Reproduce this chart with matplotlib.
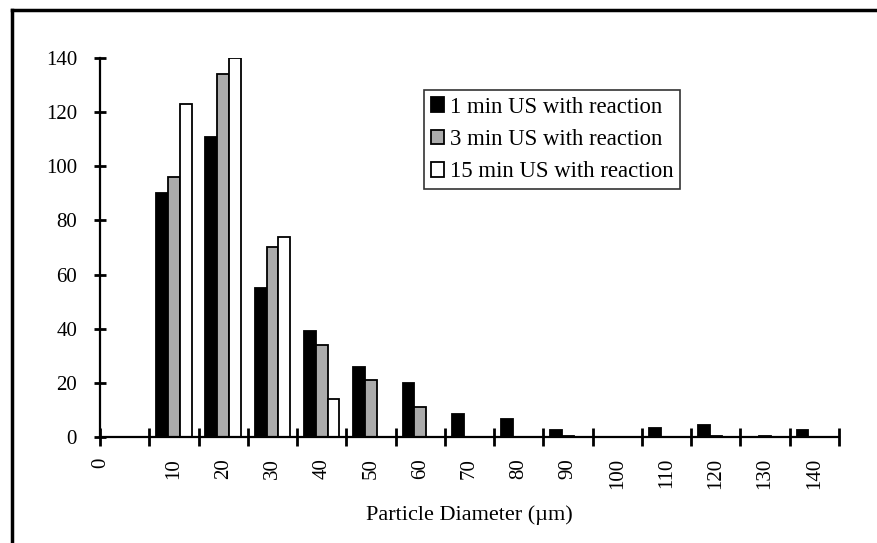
import matplotlib
matplotlib.use("Agg")
import matplotlib.pyplot as plt
import numpy as np
from matplotlib.lines import Line2D
from matplotlib.ticker import FixedLocator
from matplotlib.transforms import ScaledTranslation

plt.rcParams["font.family"] = ["Liberation Serif", "DejaVu Serif"]

# particle size classes (um) and counts per sonication time
diameters = ["0", "10", "20", "30", "40", "50", "60", "70",
             "80", "90", "100", "110", "120", "130", "140"]
us_1min = [0, 90, 111, 55, 39, 26, 20, 8.5, 6.5, 2.5, 0, 3.5, 4.5, 0, 2.5]
us_3min = [0, 96, 134, 70, 34, 21, 11, 0, 0, 0.4, 0, 0, 0.4, 0.4, 0]
us_15min = [0, 123, 140, 74, 14, 0, 0, 0, 0, 0, 0, 0, 0, 0, 0]

series = [
    (us_1min, "1 min US with reaction", "black"),
    (us_3min, "3 min US with reaction", "#ababab"),
    (us_15min, "15 min US with reaction", "white"),
]

fig = plt.figure(figsize=(8.78, 5.43), dpi=100)
ax = fig.add_axes([0.1139, 0.1952, 0.8417, 0.698])

x = np.arange(len(diameters))
width = 0.24
for k, (vals, label, color) in enumerate(series):
    ax.bar(x + (k - 1) * width, vals, width, color=color,
           edgecolor="black", linewidth=1.3, label=label)

ax.set_xlim(-0.5, len(diameters) - 0.5)
ax.set_ylim(0, 140)
ax.set_yticks(np.arange(0, 141, 20))

# category separators carry the ticks, labels sit at the centres
ax.xaxis.set_major_locator(FixedLocator(np.arange(-0.5, len(diameters), 1.0)))
ax.xaxis.set_major_formatter(plt.NullFormatter())
ax.set_xticks(x, diameters, minor=True, rotation=90)
ax.tick_params(axis="x", which="major", direction="inout", length=13, width=2)
ax.tick_params(axis="x", which="minor", length=0, pad=15, labelsize=15)
ax.tick_params(axis="y", direction="inout", length=9, width=2, labelsize=15, pad=12)
for lab in ax.get_xticklabels(minor=True):
    lab.set_verticalalignment("top")
# the zero class label sits under the axis origin
first = ax.get_xticklabels(minor=True)[0]
first.set_transform(first.get_transform()
                    + ScaledTranslation(-0.24, 0, fig.dpi_scale_trans))

for side in ("top", "right"):
    ax.spines[side].set_visible(False)
for side in ("left", "bottom"):
    ax.spines[side].set_linewidth(1.6)

ax.set_xlabel("Particle Diameter (\u00b5m)", fontsize=16, labelpad=12)

leg = ax.legend(loc="upper left", bbox_to_anchor=(0.439, 0.915), fontsize=16.4,
                frameon=True, fancybox=False, edgecolor="black",
                handlelength=0.6, handleheight=0.6, handletextpad=0.25,
                labelspacing=0.5, borderpad=0.28, borderaxespad=0)
leg.get_frame().set_linewidth(1.2)

# outer frame of the figure panel
fig.add_artist(Line2D([12 / 878, 1.0], [1 - 10 / 543, 1 - 10 / 543],
                      transform=fig.transFigure, color="black", linewidth=2.5))
fig.add_artist(Line2D([12 / 878, 12 / 878], [0.0, 1 - 10 / 543],
                      transform=fig.transFigure, color="black", linewidth=2.5))

fig.savefig("out.png", dpi=100)
